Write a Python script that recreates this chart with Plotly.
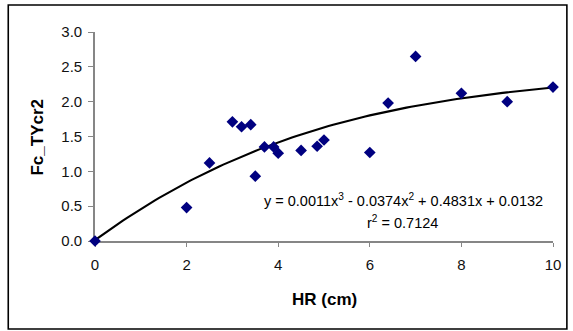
import numpy as np
import plotly.graph_objects as go

hr_cm = [0, 2, 2.5, 3.0, 3.2, 3.4, 3.5, 3.7, 3.9, 4.0, 4.5, 4.85, 5.0, 6.0, 6.4, 7.0, 8.0, 9.0, 10.0]
fc_tycr2 = [0, 0.48, 1.12, 1.71, 1.64, 1.67, 0.93, 1.35, 1.35, 1.26, 1.30, 1.36, 1.45, 1.27, 1.98, 2.65, 2.12, 2.00, 2.21]

# trendline coefficients (cubic, highest power first) as shown on chart
trend_coeffs = [0.0011, -0.0374, 0.4831, 0.0132]
r_squared = 0.7124

x_ticks = [0, 2, 4, 6, 8, 10]
y_ticks = [0.0, 0.5, 1.0, 1.5, 2.0, 2.5, 3.0]

xs = np.linspace(0, 10, 101)
ys = np.polyval(trend_coeffs, xs)

W, H = 573, 331
pl, pr, pt, pb = 95, 557, 32, 241

fig = go.Figure()
fig.add_trace(go.Scatter(x=xs, y=ys, mode="lines", cliponaxis=False,
                         line=dict(color="black", width=2.1), hoverinfo="skip"))
fig.add_trace(go.Scatter(x=hr_cm, y=fc_tycr2, mode="markers", cliponaxis=False,
                         marker=dict(symbol="diamond", size=9, color="#000080")))

font = "Liberation Sans, Arial, sans-serif"
fig.update_layout(
    width=W, height=H,
    margin=dict(l=pl, r=W - pr, t=pt, b=H - pb),
    paper_bgcolor="white", plot_bgcolor="white",
    showlegend=False,
    font=dict(family=font, size=15, color="black"),
    xaxis=dict(range=[0, 10], tickvals=x_ticks, ticktext=[str(v) for v in x_ticks],
               showgrid=False, zeroline=False, showline=True, linecolor="#868686",
               linewidth=1.6, ticks="outside", ticklen=4, tickcolor="#868686",
               ticklabelstandoff=5, layer="below traces",
               tickfont=dict(size=15, family=font, color="#111")),
    yaxis=dict(range=[0, 3.0], tickvals=y_ticks, ticktext=[f"{v:.1f}" for v in y_ticks],
               showgrid=False, zeroline=False, showline=True, linecolor="#868686",
               linewidth=1.6, ticks="outside", ticklen=5, tickcolor="#868686",
               ticklabelstandoff=3, layer="below traces",
               tickfont=dict(size=15, family=font, color="#111")),
)

def px_to_paper(px, py):
    return (px - pl) / (pr - pl), (pb - py) / (pb - pt)

eq = (f"y = {trend_coeffs[0]:.4f}x<sup>3</sup> - {abs(trend_coeffs[1]):.4f}x<sup>2</sup> "
      f"+ {trend_coeffs[2]:.4f}x + {trend_coeffs[3]:.4f}")
ax0, ay0 = px_to_paper(406, 200)
ax1, ay1 = px_to_paper(405, 222)
fig.add_annotation(x=ax0, y=ay0, xref="paper", yref="paper", text=eq, showarrow=False,
                   font=dict(size=14.5, family=font), xanchor="center", yanchor="middle")
fig.add_annotation(x=ax1, y=ay1, xref="paper", yref="paper",
                   text=f"r<sup>2</sup> = {r_squared:.4f}", showarrow=False,
                   font=dict(size=14.5, family=font), xanchor="center", yanchor="middle")

tx, ty = px_to_paper(326, 299)
fig.add_annotation(x=tx, y=ty, xref="paper", yref="paper", text="<b>HR (cm)</b>",
                   showarrow=False, font=dict(size=17, family=font),
                   xanchor="center", yanchor="middle")
yx, yy = px_to_paper(36, 137)
fig.add_annotation(x=yx, y=yy, xref="paper", yref="paper", text="<b>Fc_TYcr2</b>",
                   showarrow=False, font=dict(size=17, family=font), textangle=-90,
                   xanchor="center", yanchor="middle")

bx0, by0 = px_to_paper(7.5, 329)
bx1, by1 = px_to_paper(571, 5)
fig.add_shape(type="rect", xref="paper", yref="paper",
              x0=bx0, x1=bx1, y0=by0, y1=by1,
              line=dict(color="black", width=1.6), layer="below")

fig.write_html("out.html")
